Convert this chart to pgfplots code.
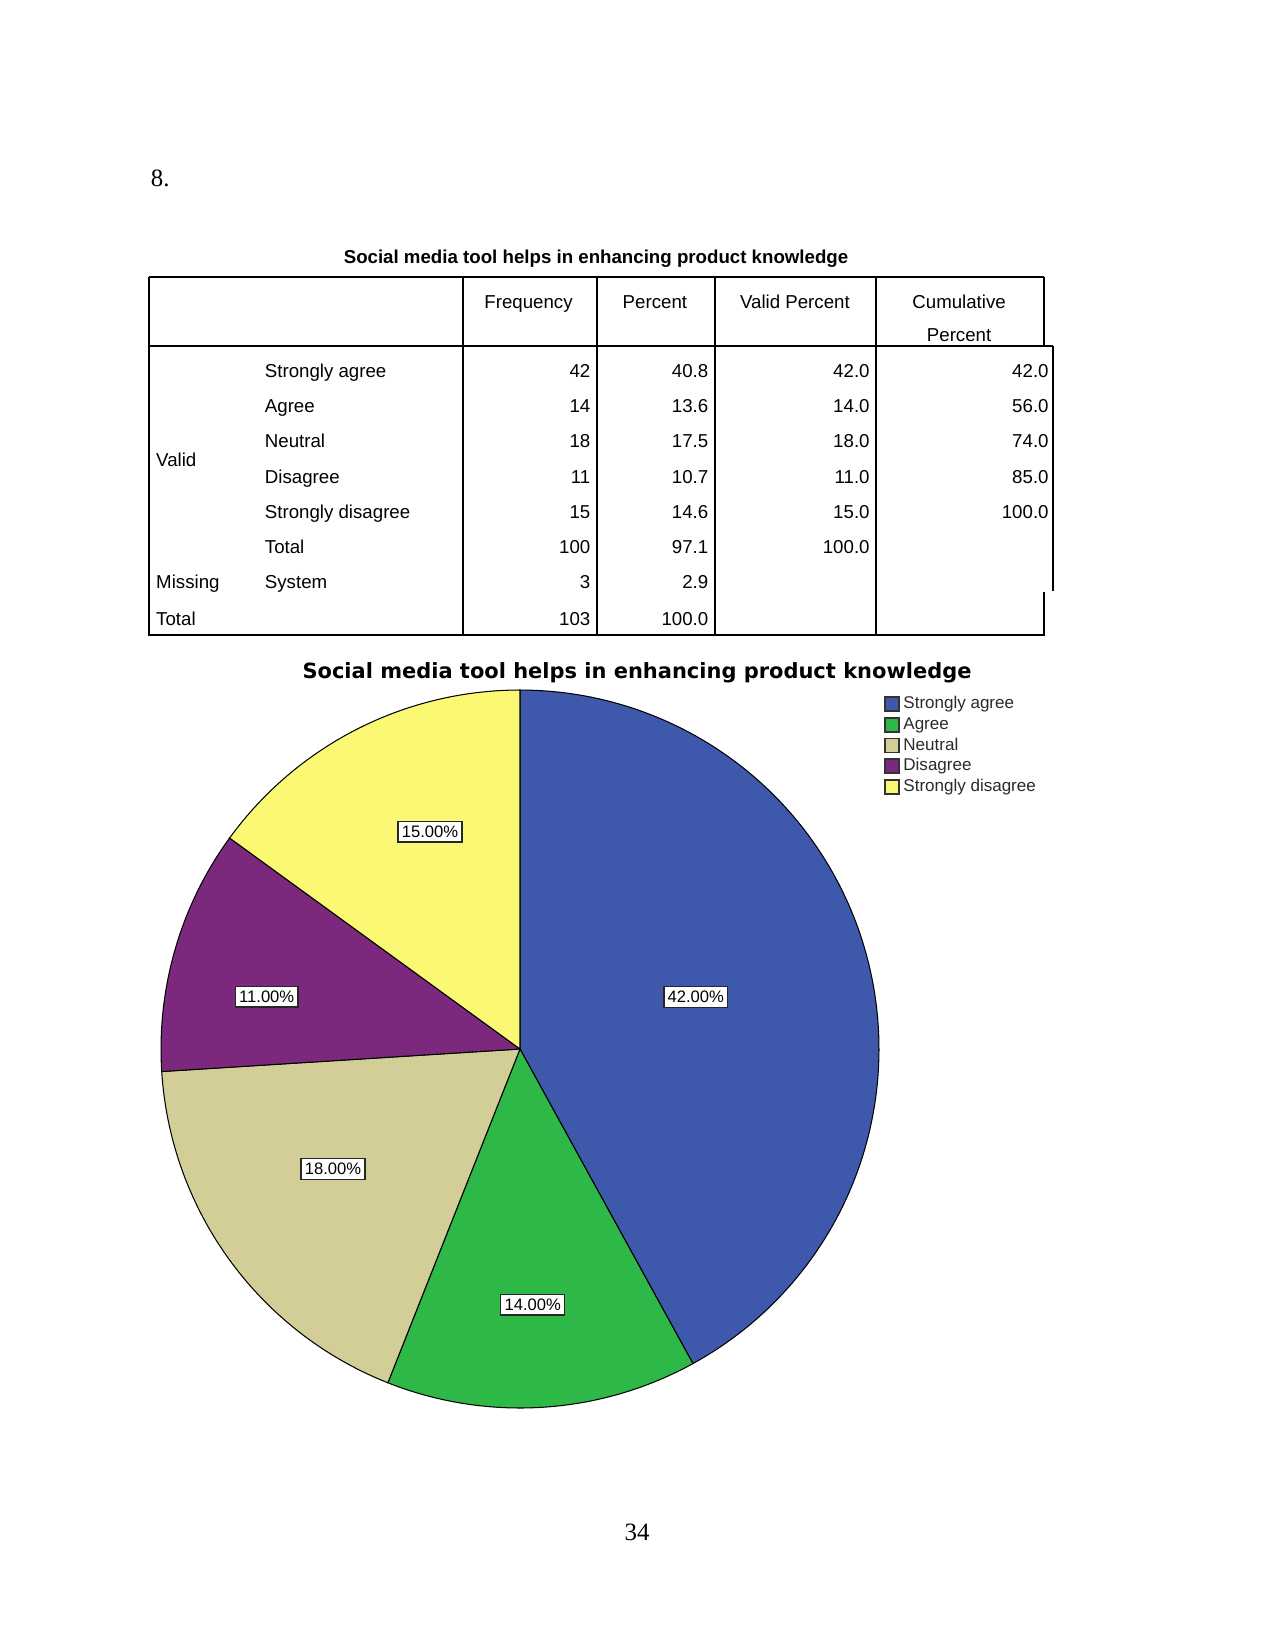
\documentclass[border=0pt]{standalone}
\usepackage{pgfplots}
\pgfplotsset{compat=1.18}
\usepackage{fontspec}
\setmainfont{Liberation Serif}
\newfontfamily\arial{Liberation Sans}
\newfontfamily\dejavu{DejaVu Sans}
\definecolor{cSA}{HTML}{3E58AC}
\definecolor{cAG}{HTML}{2EB848}
\definecolor{cNE}{HTML}{D3CE97}
\definecolor{cDI}{HTML}{7C287D}
\definecolor{cSD}{HTML}{FBF873}
\definecolor{legtext}{HTML}{2A2A2A}
\tikzset{tb/.style={font=\arial\fontsize{9}{11}\selectfont, inner sep=0pt, yshift=-1.1pt},
  lbl/.style={draw=black!85, fill=white, line width=0.6pt, inner xsep=1.8pt, inner ysep=0pt, minimum height=10pt, font=\arial\fontsize{8}{9}\selectfont},
  lg/.style={anchor=mid west, inner sep=0pt, text=legtext, font=\arial\fontsize{8.2}{9}\selectfont},
  lgbox/.style={draw=black!80, line width=0.6pt}}
\begin{document}
\begin{tikzpicture}
\begin{axis}[hide axis, scale only axis, width=612bp, height=792.48bp,
  xmin=0, xmax=1275, ymin=0, ymax=1651, y dir=reverse, clip=false,
  enlargelimits=false]
% ---------- page text ----------
\node[anchor=mid west, inner sep=0pt, font=\fontsize{12}{14}\selectfont] at (150.5,182) {8.};
\node[anchor=mid, inner sep=0pt, font=\fontsize{12}{14}\selectfont] at (637,1536) {34};
% ---------- table ----------
\node[tb, anchor=mid, font=\arial\bfseries\fontsize{9}{11}\selectfont] at (596,256) {Social media tool helps in enhancing product knowledge};
\draw[line width=0.96pt] (148.5,277) -- (1043.5,277);
\draw[line width=0.96pt] (148.5,345.5) -- (1053,345.5);
\draw[line width=0.96pt] (148.5,635) -- (1043.5,635);
\draw[line width=0.96pt] (148.5,276.5) -- (148.5,635.5);
\draw[line width=0.96pt] (462.6,277) -- (462.6,635);
\draw[line width=0.96pt] (596.7,277) -- (596.7,635);
\draw[line width=0.96pt] (714.6,277) -- (714.6,635);
\draw[line width=0.96pt] (876,277) -- (876,635);
\draw[line width=0.96pt] (1043.5,276.5) -- (1043.5,345.5);
\draw[line width=0.96pt] (1053,345.5) -- (1053,591);
\draw[line width=0.96pt] (1043.5,592) -- (1043.5,635.5);
\node[tb, anchor=mid] at (528.5,301) {Frequency};
\node[tb, anchor=mid] at (654.9,301) {Percent};
\node[tb, anchor=mid] at (794.9,301) {Valid Percent};
\node[tb, anchor=mid] at (959.1,301) {Cumulative};
\node[tb, anchor=mid] at (959.1,334.8) {Percent};
\node[tb, anchor=mid west] at (155.8,459) {Valid};
\node[tb, anchor=mid west] at (155.8,581) {Missing};
\node[tb, anchor=mid west] at (155.8,618) {Total};
\node[tb, anchor=mid west] at (264.5,370) {Strongly agree};
\node[tb, anchor=mid west] at (264.5,405.5) {Agree};
\node[tb, anchor=mid west] at (264.5,440.5) {Neutral};
\node[tb, anchor=mid west] at (264.5,476) {Disagree};
\node[tb, anchor=mid west] at (264.5,511.7) {Strongly disagree};
\node[tb, anchor=mid west] at (264.5,546.5) {Total};
\node[tb, anchor=mid west] at (264.5,581) {System};
\node[tb, anchor=mid east] at (590.7,370) {42};
\node[tb, anchor=mid east] at (708.7,370) {40.8};
\node[tb, anchor=mid east] at (870,370) {42.0};
\node[tb, anchor=mid east] at (1049,370) {42.0};
\node[tb, anchor=mid east] at (590.7,405.5) {14};
\node[tb, anchor=mid east] at (708.7,405.5) {13.6};
\node[tb, anchor=mid east] at (870,405.5) {14.0};
\node[tb, anchor=mid east] at (1049,405.5) {56.0};
\node[tb, anchor=mid east] at (590.7,440.5) {18};
\node[tb, anchor=mid east] at (708.7,440.5) {17.5};
\node[tb, anchor=mid east] at (870,440.5) {18.0};
\node[tb, anchor=mid east] at (1049,440.5) {74.0};
\node[tb, anchor=mid east] at (590.7,476) {11};
\node[tb, anchor=mid east] at (708.7,476) {10.7};
\node[tb, anchor=mid east] at (870,476) {11.0};
\node[tb, anchor=mid east] at (1049,476) {85.0};
\node[tb, anchor=mid east] at (590.7,511.7) {15};
\node[tb, anchor=mid east] at (708.7,511.7) {14.6};
\node[tb, anchor=mid east] at (870,511.7) {15.0};
\node[tb, anchor=mid east] at (1049,511.7) {100.0};
\node[tb, anchor=mid east] at (590.7,546.5) {100};
\node[tb, anchor=mid east] at (708.7,546.5) {97.1};
\node[tb, anchor=mid east] at (870,546.5) {100.0};
\node[tb, anchor=mid east] at (590.7,581) {3};
\node[tb, anchor=mid east] at (708.7,581) {2.9};
\node[tb, anchor=mid east] at (590.7,618) {103};
\node[tb, anchor=mid east] at (708.7,618) {100.0};
% ---------- pie chart ----------
\node[anchor=base, font=\dejavu\bfseries\fontsize{10.1}{12}\selectfont] at (637,678) {Social media tool helps in enhancing product knowledge};
\addplot[draw=black, line width=0.5pt, fill=cSA, domain=90-3.6*42:90, samples=120]
  ({520+359*cos(x)},{1049-359*sin(x)}) -- (520,1049) -- cycle;
\addplot[draw=black, line width=0.5pt, fill=cAG, domain=90-3.6*56:90-3.6*42, samples=60]
  ({520+359*cos(x)},{1049-359*sin(x)}) -- (520,1049) -- cycle;
\addplot[draw=black, line width=0.5pt, fill=cNE, domain=90-3.6*74:90-3.6*56, samples=60]
  ({520+359*cos(x)},{1049-359*sin(x)}) -- (520,1049) -- cycle;
\addplot[draw=black, line width=0.5pt, fill=cDI, domain=90-3.6*85:90-3.6*74, samples=60]
  ({520+359*cos(x)},{1049-359*sin(x)}) -- (520,1049) -- cycle;
\addplot[draw=black, line width=0.5pt, fill=cSD, domain=90-3.6*100:90-3.6*85, samples=60]
  ({520+359*cos(x)},{1049-359*sin(x)}) -- (520,1049) -- cycle;
\node[lbl] at (695.8,997) {42.00\%};
\node[lbl] at (430,831.5) {15.00\%};
\node[lbl] at (266.7,996.5) {11.00\%};
\node[lbl] at (333,1169) {18.00\%};
\node[lbl] at (532.7,1304.5) {14.00\%};
% ---------- legend ----------
\draw[lgbox, fill=cSA] (885,697) rectangle (899,711);
\draw[lgbox, fill=cAG] (885,718) rectangle (899,732);
\draw[lgbox, fill=cNE] (885,738.5) rectangle (899,752.5);
\draw[lgbox, fill=cDI] (885,759) rectangle (899,773);
\draw[lgbox, fill=cSD] (885,780) rectangle (899,794);
\node[lg] at (903,704) {Strongly agree};
\node[lg] at (903,725) {Agree};
\node[lg] at (903,745.5) {Neutral};
\node[lg] at (903,766) {Disagree};
\node[lg] at (903,787) {Strongly disagree};
\end{axis}
\path (current axis.south west) rectangle (current axis.north east);
\end{tikzpicture}
\end{document}
